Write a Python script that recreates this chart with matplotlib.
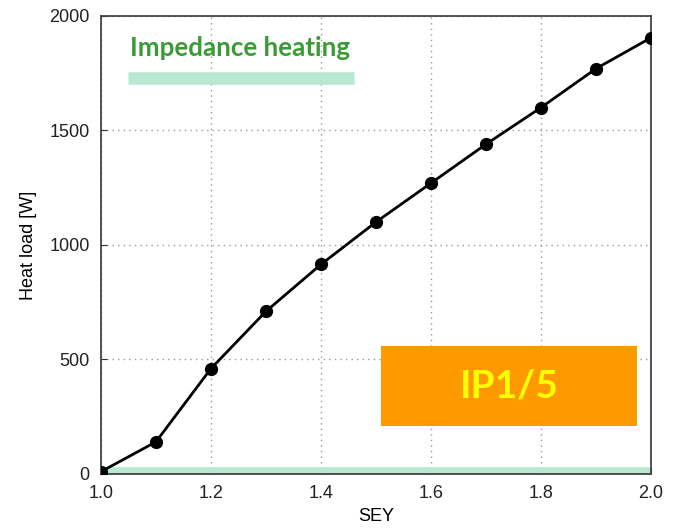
import matplotlib.pyplot as plt
from matplotlib.patches import Rectangle

plt.rcParams['font.family'] = ['Liberation Sans', 'DejaVu Sans']

# SEY scan, heat load
sey = [1.0, 1.1, 1.2, 1.3, 1.4, 1.5, 1.6, 1.7, 1.8, 1.9, 2.0]
heat_load = [10, 140, 460, 710, 915, 1100, 1270, 1440, 1600, 1770, 1905]

imp_x = [1.0, 2.0]
imp_y = [15, 15]
legend_x = [1.05, 1.46]
legend_y = [1730, 1730]

green_band = "#b8e8cf"

fig = plt.figure(figsize=(6.77, 5.29), dpi=100)
ax = fig.add_axes([0.149, 0.104, 0.8126, 0.8658])

ax.plot(imp_x, imp_y, color=green_band, lw=5.5, solid_capstyle="butt", zorder=2)
ax.plot(legend_x, legend_y, color=green_band, lw=9, solid_capstyle="butt", zorder=2)
ax.text(1.053, 1862, "Impedance heating", color="#3a9a35", fontsize=18.6,
        fontweight="bold", family="Lato", va="center", ha="left")

ax.plot(sey, heat_load, "o-", color="black", lw=2, ms=8.5, zorder=3)

# IP label box
ax.add_patch(Rectangle((1.509, 210), 0.466, 350, transform=ax.transData,
                       facecolor="#ff9900", edgecolor="none", zorder=4))
ax.text(1.742, 385, "IP1/5", color="#ffff00", fontsize=28, fontweight="bold",
        family="Lato", ha="center", va="center", zorder=5)

ax.set_xlim(1.0, 2.0)
ax.set_ylim(0, 2000)
ax.set_xticks([1.0, 1.2, 1.4, 1.6, 1.8, 2.0])
ax.set_yticks([0, 500, 1000, 1500, 2000])
ax.grid(True, linestyle=(0, (1, 3)), color="#999999", lw=1)
ax.tick_params(direction="in", length=4, labelsize=13, pad=8, colors="#333333",
               labelcolor="#222222")
for s in ax.spines.values():
    s.set_color("#444444")
    s.set_linewidth(1.3)

ax.set_xlabel("SEY", fontsize=13, labelpad=4)
ax.set_ylabel("Heat load [W]", fontsize=13, labelpad=9)

fig.savefig("out.png", dpi=100)
